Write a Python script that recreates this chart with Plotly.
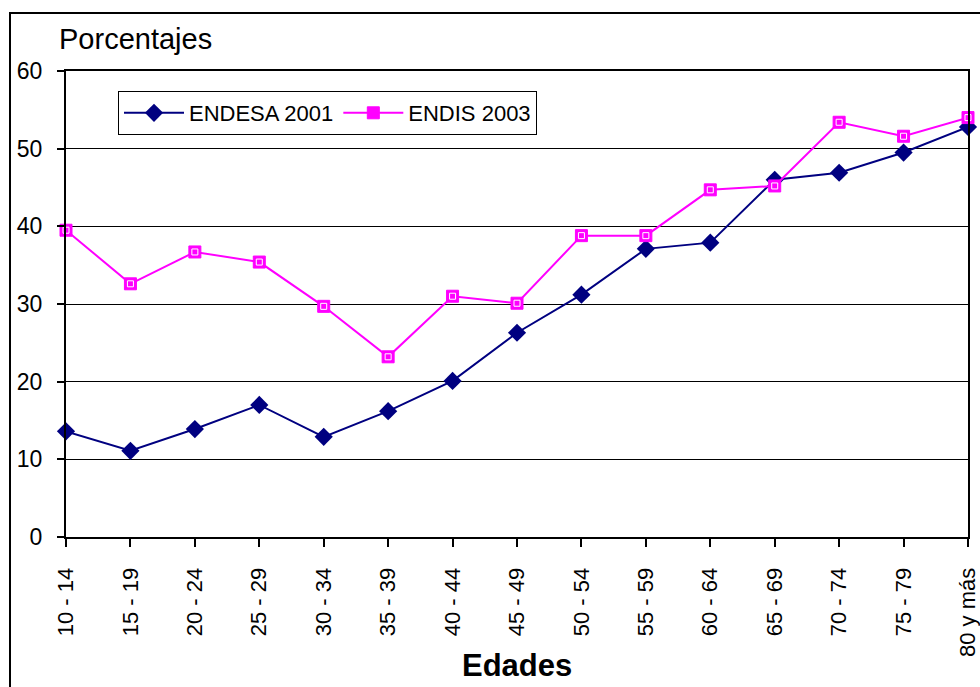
import plotly.graph_objects as go

edades = ["10 - 14", "15 - 19", "20 - 24", "25 - 29", "30 - 34", "35 - 39", "40 - 44",
          "45 - 49", "50 - 54", "55 - 59", "60 - 64", "65 - 69", "70 - 74", "75 - 79", "80 y más"]
endesa_2001 = [13.6, 11.1, 13.9, 17.0, 12.9, 16.2, 20.1, 26.3, 31.2, 37.1, 37.9, 46.0, 46.9, 49.5, 52.8]
endis_2003 = [39.5, 32.6, 36.7, 35.4, 29.7, 23.2, 31.0, 30.1, 38.8, 38.8, 44.7, 45.2, 53.4, 51.6, 54.0]
y_ticks = [0, 10, 20, 30, 40, 50, 60]

FONT = "Liberation Sans, Arial, sans-serif"

fig = go.Figure()
fig.add_trace(go.Scatter(
    x=edades, y=endesa_2001, name="ENDESA 2001", mode="lines+markers",
    line=dict(color="#000080", width=2),
    marker=dict(symbol="diamond", size=14, color="#000080"),
    cliponaxis=False,
))
fig.add_trace(go.Scatter(
    x=edades, y=endis_2003, name="ENDIS 2003", mode="lines+markers",
    line=dict(color="#FF00FF", width=2),
    marker=dict(symbol="square", size=12, color="#FF00FF", line=dict(color="#FF00FF", width=1)),
    cliponaxis=False,
))
fig.add_trace(go.Scatter(
    x=edades, y=endis_2003, mode="markers", showlegend=False, hoverinfo="skip",
    marker=dict(symbol="square-open", size=6, color="white", line=dict(color="white", width=1)),
    cliponaxis=False,
))

L, R, T, B = 66, 12, 71, 150
W, H = 980, 687
pw, ph = W - L - R, H - T - B

fig.update_layout(
    width=W, height=H,
    margin=dict(l=L, r=R, t=T, b=B, autoexpand=False),
    paper_bgcolor="white", plot_bgcolor="white",
    font=dict(family=FONT, color="black"),
    showlegend=True,
    legend=dict(
        orientation="h", x=(118 - L) / pw, y=(H - B - 91) / ph,
        xanchor="left", yanchor="top",
        bordercolor="black", borderwidth=1, bgcolor="white",
        font=dict(size=22, family=FONT),
        itemwidth=60,
    ),
    xaxis=dict(
        type="category", range=[0, len(edades) - 1], automargin=False,
        tickangle=-90, tickfont=dict(size=22, family=FONT),
        ticks="outside", ticklen=8, tickwidth=2, tickcolor="black",
        showline=True, linewidth=2, linecolor="black", mirror=True,
        showgrid=False, zeroline=False, ticklabelstandoff=12,
    ),
    yaxis=dict(
        range=[0, 60], tickvals=y_ticks, automargin=False,
        tickfont=dict(size=23, family=FONT),
        ticks="outside", ticklen=7, tickwidth=2, tickcolor="black",
        showline=True, linewidth=2, linecolor="black", mirror=True,
        showgrid=True, gridcolor="black", gridwidth=1, zeroline=False,
        ticklabelstandoff=10,
    ),
    annotations=[
        dict(text="Porcentajes", xref="paper", yref="paper",
             x=(57 - L) / pw, y=(H - B - 39) / ph, xanchor="left", yanchor="middle",
             showarrow=False, font=dict(size=29, family=FONT)),
        dict(text="<b>Edades</b>", xref="paper", yref="paper",
             x=(517 - L) / pw, y=(H - B - 665) / ph, xanchor="center", yanchor="middle",
             showarrow=False, font=dict(size=31, family=FONT)),
    ],
    shapes=[
        dict(type="rect", xref="paper", yref="paper",
             x0=(10 - L) / pw, x1=(W + 10 - L) / pw,
             y0=(H - B - (H + 10)) / ph, y1=(H - B - 13) / ph,
             line=dict(color="black", width=2), fillcolor="rgba(0,0,0,0)", layer="below"),
    ],
)

fig.write_html("out.html", config={"displayModeBar": False},
               post_script="document.body.style.margin='0';document.body.style.overflow='hidden';")
